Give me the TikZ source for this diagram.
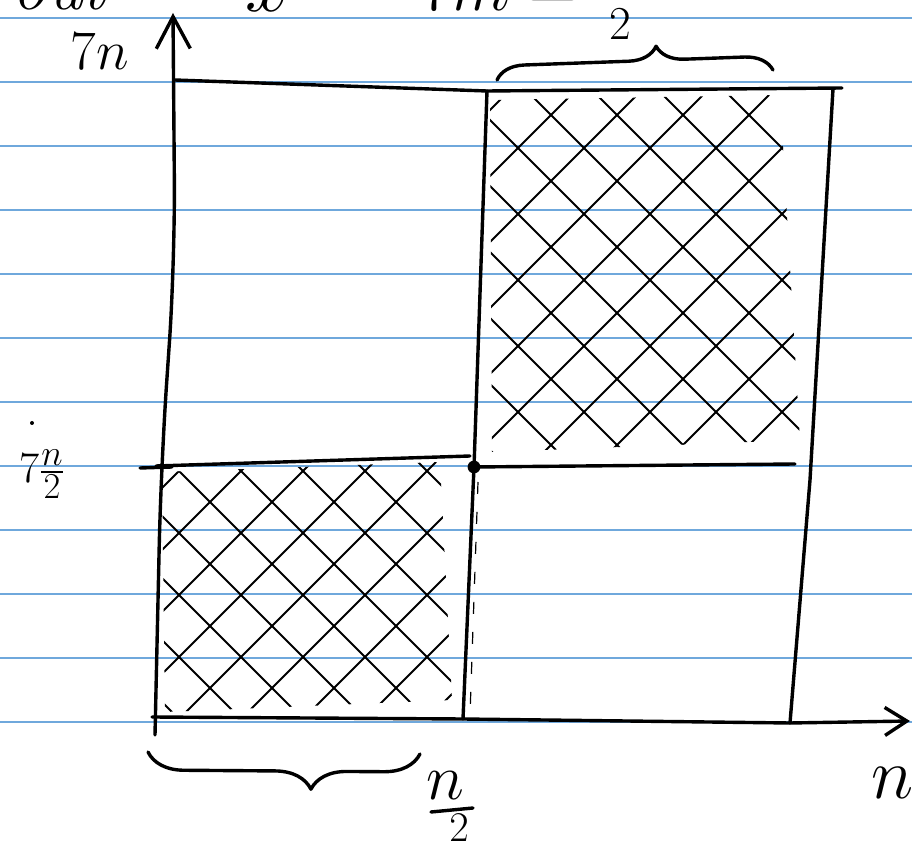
\documentclass[tikz,border=0pt]{standalone}
\usepackage{amsmath}
\usepackage{graphicx}
\usetikzlibrary{arrows.meta, decorations.pathreplacing}
\definecolor{ruleblue}{HTML}{6FA8DC}
\newcommand{\handsize}[2]{\scalebox{#1}{\Huge #2}}

\begin{document}
\begin{tikzpicture}[x=0.5pt, y=-0.5pt,
  ink/.style={line width=1.7pt, line cap=round, line join=round},
  hatch/.style={line width=1pt, line cap=round},
  rule/.style={draw=ruleblue, line width=0.8pt},
  lbl/.style={inner sep=0pt}]
  \useasboundingbox (0,0) rectangle (912,850);
  \clip (0,0) rectangle (912,850);
  % ruled paper
  \foreach \k in {0,...,11}
    \draw[rule] (0,{18+64*\k}) -- (912,{18+64*\k});
  % corners of the grid
  \coordinate (tl) at (175,80);
  \coordinate (tm) at (487,91);
  \coordinate (tr) at (842,88);
  \coordinate (tre) at (833,89);
  \coordinate (mid) at (474,467);
  \coordinate (ml) at (156,466);
  \coordinate (mlb) at (470,456);
  \coordinate (mr) at (795,464);
  \coordinate (bl) at (152,717);
  \coordinate (bm) at (463,719);
  \coordinate (br) at (790,723);
  \coordinate (xend) at (910,721);
  \coordinate (ybot) at (155,735);
  \coordinate (ytop) at (173,13);
  % hatching, lower left
  \begin{scope}
    \clip (162,472) -- (440,462) -- (452,700) -- (165,712) -- cycle;
    \foreach \c in {650,712,...,1160}
      \draw[hatch] ({\c-712},712) -- ({\c-462},462);
    \foreach \c in {-540,-478,...,-10}
      \draw[hatch] ({\c+462},462) -- ({\c+712},712);
  \end{scope}
  % hatching, upper right
  \begin{scope}
    \clip (490,100) -- (780,95) -- (800,440) -- (492,452) -- cycle;
    \foreach \c in {600,666,...,1260}
      \draw[hatch] ({\c-455},455) -- ({\c-95},95);
    \foreach \c in {40,106,...,710}
      \draw[hatch] ({\c+95},95) -- ({\c+455},455);
  \end{scope}
  % axes
  \draw[ink, rounded corners=40pt, -{Straight Barb[length=16pt, width=17pt]}]
    (ybot) -- (161,466) -- (175,260) -- (ytop);
  \draw[ink, -{Straight Barb[length=11pt, width=14pt]}]
    (bl) -- (bm) -- (br) -- (xend);
  % grid lines
  \draw[ink] (tl) -- (tm) -- (tr);
  \draw[ink] (tre) -- (810,480) -- (br);
  \draw[ink] (140,468) -- (172,467);
  \draw[ink] (ml) -- (mlb);
  \draw[ink] (mid) -- (mr);
  \draw[ink] (tm) -- (mid);
  \draw[ink] (mid) -- (bm);
  \draw[line width=0.6pt, dash pattern=on 6pt off 9pt] (478,482) -- (470,715);
  \fill (mid) circle[radius=3.2pt];
  % braces
  \coordinate (bbl) at (148,752);
  \coordinate (bbr) at (420,754);
  \draw[ink, decorate, decoration={brace, mirror, amplitude=18pt, aspect=0.6}]
    (bbl) -- (bbr);
  \coordinate (tbl) at (497,80);
  \coordinate (tbr) at (773,70);
  \draw[ink, decorate, decoration={brace, amplitude=14pt, aspect=0.58}]
    (tbl) -- (tbr);
  % labels
  \node[lbl] (ylab) at (100,52) {\handsize{1.12}{$7n$}};
  \node[lbl] (yhalf) at (42,474) {\handsize{0.88}{$7\frac{n}{2}$}};
  \node[lbl] (xlab) at (893,783) {\handsize{1.45}{$n$}};
  \node[lbl] (xhalfn) at (445,786) {\handsize{1.3}{$n$}};
  \draw[ink] (431,812) -- (473,808);
  \node[lbl] (xhalfd) at (459,828) {\handsize{0.85}{$2$}};
  \node[lbl] (brlab) at (620,24) {\handsize{0.95}{$2$}};
  \fill (32,423) circle[radius=1pt];
  % text cut off at the top edge
  \node[lbl, anchor=base east] (topa) at (105,10) {\handsize{1.37}{\itshape out}};
  \node[lbl, anchor=base] (topb) at (268,12) {\handsize{1.6}{$x$}};
  \node[lbl, anchor=base west] (topc) at (420,11) {\handsize{1.37}{$7m =$}};
\end{tikzpicture}
\end{document}
